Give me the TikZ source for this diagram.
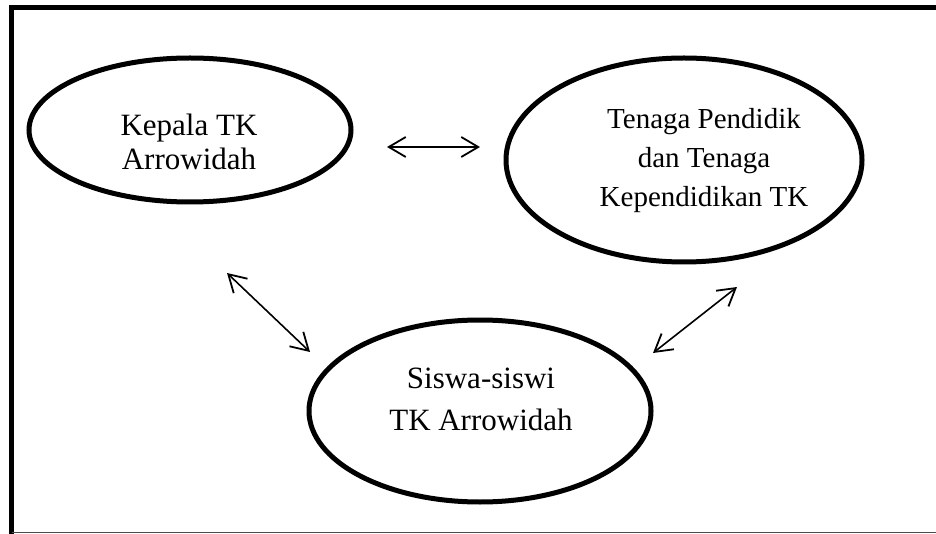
\documentclass[tikz,border=0pt]{standalone}
\usepackage{fontspec}
\setmainfont{Liberation Serif}
\usetikzlibrary{shapes.geometric,arrows.meta}
\tikzset{
  oval/.style={ellipse, draw=black, line width=5pt, inner sep=0pt},
  lbl/.style={align=center, inner sep=0pt, anchor=base},
  rel/.style={line width=1.6pt, {Straight Barb[length=17pt,width=20pt,line width=1.8pt]}-{Straight Barb[length=17pt,width=20pt,line width=1.8pt]}}
}
\begin{document}
\begin{tikzpicture}[x=1pt,y=-1pt]
\useasboundingbox (0,0) rectangle (936,534);
% frame
\draw[line width=5pt] (11.5,540) -- (11.5,7.5) -- (945,7.5);
\draw[line width=1pt, black!70] (11.5,532) -- (945,532);
% ellipses
\node[oval, minimum width=322pt, minimum height=144pt] (kepala) at (190,130) {};
\node[oval, minimum width=356pt, minimum height=204pt] (tenaga) at (684,160) {};
\node[oval, minimum width=342pt, minimum height=182pt] (siswa) at (480,411) {};
% texts (base = baseline of last line)
\node[lbl, font=\fontsize{31}{34}\selectfont] (tkepala) at (189,170) {Kepala TK\\Arrowidah};
\node[lbl, font=\fontsize{29}{39}\selectfont] (ttenaga) at (704,207) {Tenaga Pendidik\\dan Tenaga\\Kependidikan TK};
\node[lbl, font=\fontsize{31}{42}\selectfont] (tsiswa) at (481,430) {Siswa-siswi\\TK Arrowidah};
% arrow ends
\coordinate (h1) at (387,147);
\coordinate (h2) at (480,147);
\coordinate (d1a) at (227,273);
\coordinate (d1b) at (310,352);
\coordinate (d2a) at (653,353);
\coordinate (d2b) at (737,287);
\draw[rel] (h1) -- (h2);
\draw[rel] (d1a) -- (d1b);
\draw[rel] (d2a) -- (d2b);
\end{tikzpicture}
\end{document}
